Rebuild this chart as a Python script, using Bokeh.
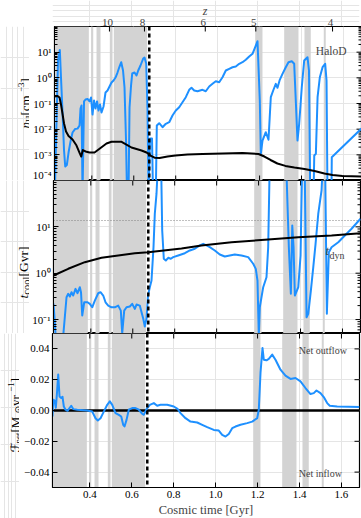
import math
from bokeh.plotting import figure
from bokeh.models import (Range1d, LinearAxis, LogAxis, FixedTicker, CustomJSTickFormatter,
                          BoxAnnotation, Span, Label)
from bokeh.layouts import column, row
from bokeh.embed import file_html
from bokeh.resources import INLINE

# ---------------- data ----------------
x_ticks = [0.4, 0.6, 0.8, 1.0, 1.2, 1.4, 1.6]
z_labels = ["10", "8", "6", "5", "4"]
z_times = [0.484, 0.651, 0.941, 1.182, 1.548]

band_start = [0.222, 0.397, 0.4224, 0.4858, 0.5049, 1.179, 1.3173, 1.4141, 1.5061]
band_end = [0.3857, 0.4067, 0.4415, 0.4986, 0.6641, 1.2138, 1.3855, 1.4441, 1.5156]
merger_time = 0.674
universe_age = 13.7

halo_t = [0.222, 0.2365, 0.246, 0.253, 0.260, 0.2675, 0.277, 0.289, 0.308, 0.327,
          0.341, 0.3495, 0.357, 0.370, 0.389, 0.413, 0.432, 0.451, 0.470, 0.494,
          0.518, 0.542, 0.565, 0.589, 0.613, 0.637, 0.661, 0.680, 0.699, 0.723,
          0.761, 0.799, 0.856, 0.928, 1.024, 1.119, 1.195, 1.223, 1.252, 1.285,
          1.323, 1.366, 1.414, 1.462, 1.509, 1.548, 1.595, 1.686]
halo_nh = [0.187, 0.196, 0.171, 0.0914, 0.0407, 0.0166, 0.0081, 0.0054, 0.00395, 0.0023,
           0.00123, 0.00086, 0.00154, 0.00135, 0.00123, 0.00123, 0.00161, 0.00211, 0.00276, 0.00322,
           0.00326, 0.0032, 0.00252, 0.00193, 0.00169, 0.00148, 0.00123, 0.00094, 0.00077, 0.00076,
           0.00086, 0.00094, 0.00103, 0.00108, 0.00113, 0.00117, 0.00108, 0.00086, 0.00063, 0.00046,
           0.00037, 0.00032, 0.00028, 0.000234, 0.000188, 0.000164, 0.00015, 0.000143]

gal_t = [0.2236, 0.2317, 0.2389, 0.2474, 0.2532, 0.2603, 0.2675, 0.2732, 0.2808, 0.289,
         0.2984, 0.308, 0.3199, 0.3318, 0.3414, 0.3461, 0.3509, 0.3557, 0.3628, 0.370,
         0.3795, 0.389, 0.3962, 0.4033, 0.4105, 0.4176, 0.4248, 0.432, 0.4391, 0.4462,
         0.4558, 0.4653, 0.4749, 0.4844, 0.4939, 0.5035, 0.513, 0.5225, 0.5321, 0.5402,
         0.5488, 0.5559, 0.5631, 0.5678, 0.575, 0.5798, 0.587, 0.5926, 0.6036, 0.6131,
         0.6212, 0.6322, 0.6451, 0.6513, 0.6594, 0.6656, 0.6703, 0.6775, 0.687, 0.6918,
         0.7051, 0.7099, 0.7213, 0.7372, 0.7528, 0.7691, 0.7847, 0.8005, 0.8167, 0.8324,
         0.8482, 0.8644, 0.8753, 0.8882, 0.9039, 0.9278, 0.9435, 0.9597, 0.9755, 0.9912,
         1.0074, 1.0232, 1.0389, 1.0551, 1.0708, 1.0866, 1.1028, 1.1185, 1.1342, 1.1505,
         1.1662, 1.1791, 1.1901, 1.2010, 1.2058, 1.2139, 1.2296, 1.2425, 1.2535, 1.2649,
         1.2773, 1.2854, 1.2963, 1.3092, 1.3249, 1.3378, 1.3535, 1.3650, 1.3726, 1.3807,
         1.3888, 1.4012, 1.4127, 1.4284, 1.4356, 1.4413, 1.4574, 1.4607, 1.4684, 1.4765,
         1.4874, 1.5003, 1.5128, 1.5193, 1.5238, 1.5428, 1.5443, 1.686]
gal_nh = [3e-5, 0.0217, 4.73, 12.1, 0.94, 0.0446, 0.00148, 0.00035, 0.0004, 0.00123,
          0.0033, 0.0074, 0.0101, 0.0105, 0.0139, 0.0638, 0.0836, 3e-5, 0.12, 0.143,
          0.15, 0.12, 0.171, 0.0372, 0.131, 0.0638, 0.12, 0.0533, 0.0914, 0.0446,
          0.0764, 0.268, 0.321, 0.459, 0.658, 0.787, 1.03, 1.61, 2.76, 4.06,
          1.93, 0.42, 0.0036, 3e-5, 3e-5, 0.0698, 0.502, 1.47, 1.61, 1.23,
          1.93, 3.02, 5.66, 6.19, 3.61, 0.0533, 3e-5, 0.00432, 0.00432, 3e-5,
          3e-5, 0.0139, 0.0171, 0.0119, 0.0162, 0.0187, 0.034, 0.0533, 0.0716, 0.112,
          0.176, 0.341, 0.408, 0.321, 0.301, 0.341, 0.301, 0.459, 0.585, 0.738,
          0.675, 1.06, 1.93, 2.25, 2.59, 2.76, 3.52, 4.06, 5.04, 6.77,
          8.63, 15.6, 26.7, 0.131, 0.0011, 0.0036, 0.0076, 0.00386, 0.176, 0.321,
          0.585, 0.408, 0.838, 1.43, 2.59, 4.06, 4.44, 3.52, 0.131, 0.0036,
          0.0162, 0.431, 4.73, 6.36, 1.93, 3e-5, 3e-5, 0.00094, 0.0011, 0.176,
          1.06, 2.59, 3.52, 0.787, 3e-5, 3e-5, 0.00081, 0.0106]

tdyn_t = [0.222, 0.2922, 0.3714, 0.451, 0.5306, 0.6098, 0.6737, 0.8324, 0.9278, 1.0708,
          1.2296, 1.3888, 1.548, 1.686]
tdyn = [0.892, 1.245, 1.73, 2.15, 2.41, 2.70, 2.84, 3.42, 3.97, 4.67,
        5.27, 5.99, 6.52, 7.31]

tcool_t = [0.222, 0.2284, 0.2341, 0.2651, 0.2841, 0.2922, 0.2998, 0.308, 0.3161, 0.327,
           0.3366, 0.3476, 0.3533, 0.359, 0.3685, 0.3843, 0.3952, 0.4067, 0.4191, 0.4353,
           0.4462, 0.4591, 0.4701, 0.483, 0.4987, 0.5144, 0.5306, 0.543, 0.5497, 0.5592,
           0.5702, 0.5859, 0.5974, 0.6098, 0.6179, 0.6336, 0.6384, 0.6498, 0.6575, 0.6656,
           0.6727, 0.6813, 0.6894, 0.6942, 0.6989, 0.7051, 0.7132, 0.7213, 0.7347, 0.7404,
           0.748, 0.7576, 0.769, 0.7814, 0.7929, 0.8167, 0.8482, 0.8721, 0.8958, 0.9197,
           0.9359, 0.9516, 0.9673, 0.9912, 1.015, 1.0389, 1.0627, 1.0865, 1.1185, 1.1504,
           1.1743, 1.1867, 1.1948, 1.201, 1.2058, 1.222, 1.2377, 1.2458, 1.2535, 1.331,
           1.3443, 1.3539, 1.3606, 1.3668, 1.373, 1.3893, 1.4002, 1.4083, 1.4193, 1.4288,
           1.4369, 1.4493, 1.4608, 1.4717, 1.4846, 1.5003, 1.5075, 1.517, 1.5256, 1.5351,
           1.548, 1.58, 1.6114, 1.6434, 1.686]
tcool = [0.222, 0.086, 0.03, 0.03, 0.303, 0.359, 0.314, 0.389, 0.33, 0.46,
         0.37, 0.499, 0.383, 0.122, 0.236, 0.236, 0.218, 0.184, 0.257, 0.37,
         0.389, 0.33, 0.236, 0.2, 0.184, 0.184, 0.2, 0.156, 0.0506, 0.156,
         0.184, 0.191, 0.218, 0.17, 0.211, 0.2, 0.164, 0.105, 0.0706, 0.105,
         0.33, 0.499, 0.695, 1.6, 3.64, 19.2, 51.9, 300, 300, 8.36,
         2.05, 1.88, 2.15, 2.05, 2.22, 2.41, 2.7, 3.09, 3.37, 3.97,
         4.31, 3.97, 3.64, 3.09, 2.53, 2.29, 2.41, 2.53, 2.41, 2.22,
         1.6, 1.24, 0.695, 0.045, 0.184, 0.499, 0.82, 3.64, 300, 300,
         3.64, 0.359, 10.7, 3.64, 0.33, 0.499, 2.41, 300, 300, 0.112,
         0.133, 0.423, 1.35, 4.31, 19.2, 61, 300, 300, 0.133, 2.84,
         3.64, 4.67, 6.52, 9.1, 15.0]

flux_t = [0.222, 0.2255, 0.2317, 0.2379, 0.2427, 0.2493, 0.2555, 0.2636, 0.2698, 0.276,
          0.2841, 0.2937, 0.3032, 0.3113, 0.3209, 0.3399, 0.3876, 0.4114, 0.4272, 0.4381,
          0.451, 0.4667, 0.483, 0.4954, 0.5068, 0.5225, 0.5383, 0.5497, 0.5592, 0.5654,
          0.575, 0.5859, 0.6021, 0.6179, 0.6336, 0.6498, 0.6575, 0.6703, 0.6861, 0.7052,
          0.7213, 0.7372, 0.769, 0.8005, 0.8182, 0.8324, 0.8563, 0.8801, 0.9121, 0.9359,
          0.9597, 0.9912, 1.015, 1.0312, 1.047, 1.0627, 1.0789, 1.0946, 1.1185, 1.1504,
          1.1743, 1.1981, 1.2058, 1.2139, 1.2234, 1.2296, 1.2425, 1.2535, 1.2697, 1.2854,
          1.3092, 1.333, 1.3569, 1.3807, 1.4045, 1.4284, 1.4522, 1.4679, 1.4808, 1.4999,
          1.5156, 1.5318, 1.5442, 1.5795, 1.686]
flux = [-0.0039, 0.007, 0.0065, 0.0018, 0.0102, 0.0233, 0.0091, 0.0081, 0.0089, 0.0026,
        0.0005, -0.0002, 0.0016, 0.0031, 0.0009, 0.0005, 0.0, -0.0007, -0.005, -0.0065,
        -0.005, -0.0007, 0.0037, 0.0059, 0.0037, -0.0017, -0.0028, -0.0039, -0.0093, -0.0104,
        -0.0061, 0.0005, 0.0016, 0.0016, 0.0005, -0.0021, -0.0028, 0.0009, 0.0037, 0.0048,
        0.0031, 0.0037, 0.0037, 0.0026, 0.0011, -0.0017, -0.005, -0.0072, -0.0078, -0.0093,
        -0.0108, -0.0126, -0.013, -0.0158, -0.0169, -0.0152, -0.0115, -0.0104, -0.0093, -0.0082,
        -0.0072, -0.005, 0.0005, 0.0244, 0.0406, 0.033, 0.0326, 0.0335, 0.0363, 0.033,
        0.0265, 0.0226, 0.0205, 0.0211, 0.0189, 0.0146, 0.0107, 0.0113, 0.013, 0.0113,
        0.0087, 0.0048, 0.0031, 0.0026, 0.0022]

# ---------------- style ----------------
FONT = "Liberation Serif"
BLUE = "#1e90ff"
GREY = "#d3d3d3"
FW = 307
FRAME_LEFT, RIGHT_B = 52, 2
TOP_H, BOT_B = 26, 31
H1, H2, H3 = 154, 153, 154
XR = (0.222, 1.686)
MAJ_LEN, MIN_LEN = 5, 3

log_fmt = CustomJSTickFormatter(code="""
const sup = {'-':'\u207b','0':'\u2070','1':'\u00b9','2':'\u00b2','3':'\u00b3','4':'\u2074',
             '5':'\u2075','6':'\u2076','7':'\u2077','8':'\u2078','9':'\u2079'};
const e = Math.round(Math.log10(tick));
return '10' + String(e).split('').map(c => sup[c]).join('');
""")
lin_fmt = CustomJSTickFormatter(code="""
const a = Math.abs(tick) < 1e-9 ? 0 : tick;
return (a < 0 ? '\u2212' : '') + Math.abs(a).toFixed(2);
""")
x_fmt = CustomJSTickFormatter(code="return tick.toFixed(1);")


def plain_fig(w, h):
    p = figure(frame_width=w, frame_height=h, x_range=Range1d(0, 1), y_range=Range1d(0, 1),
               x_axis_location=None, y_axis_location=None,
               min_border_left=0, min_border_right=0, min_border_top=0, min_border_bottom=0,
               output_backend="svg", toolbar_location=None)
    p.outline_line_color = None
    p.background_fill_color = "white"
    p.border_fill_color = "white"
    return p


def make_fig(frame_h, yr, log, left_b, bottom_b):
    p = figure(frame_width=FW, frame_height=frame_h, x_range=Range1d(*XR), y_range=yr,
               y_axis_type="log" if log else "linear",
               x_axis_location=None, y_axis_location=None,
               min_border_left=left_b, min_border_right=RIGHT_B,
               min_border_top=0, min_border_bottom=bottom_b,
               output_backend="svg", toolbar_location=None)
    p.outline_line_color = "black"
    p.outline_line_width = 1.2
    p.background_fill_color = "white"
    p.border_fill_color = "white"
    for a, b in zip(band_start, band_end):
        p.add_layout(BoxAnnotation(left=a, right=b, fill_color=GREY, fill_alpha=1.0,
                                   line_color=None, level="underlay"))
    p.add_layout(Span(location=merger_time, dimension="height", line_color="black",
                      line_width=2.5, line_dash="4 3"))
    return p


def style_axis(ax, size="11px"):
    ax.major_tick_in = MAJ_LEN
    ax.major_tick_out = 0
    ax.minor_tick_in = MIN_LEN
    ax.minor_tick_out = 0
    ax.axis_line_color = "black"
    ax.major_tick_line_color = "black"
    ax.minor_tick_line_color = "black"
    ax.major_label_text_font = FONT
    ax.major_label_text_font_size = size
    ax.major_label_text_color = "black"
    ax.major_label_standoff = 3


def inward_y(yr, log, frame_h, edge, sign, length):
    # data value that lies `length` px inside the frame from the given edge
    if log:
        ppd = frame_h / math.log10(yr.end / yr.start)
        return edge * 10 ** (sign * length / ppd)
    return edge + sign * length * (yr.end - yr.start) / frame_h


def x_tick_marks(p, ticks, yr, log, frame_h, top=True, bottom=True):
    n = len(ticks)
    if top:
        y_in = inward_y(yr, log, frame_h, yr.end, -1, MAJ_LEN)
        p.segment(x0=ticks, x1=ticks, y0=[yr.end] * n, y1=[y_in] * n,
                  line_color="black", line_width=1)
    if bottom:
        y_in = inward_y(yr, log, frame_h, yr.start, 1, MAJ_LEN)
        p.segment(x0=ticks, x1=ticks, y0=[yr.start] * n, y1=[y_in] * n,
                  line_color="black", line_width=1)


def right_tick_marks(p, majors, minors):
    span = XR[1] - XR[0]
    for vals, length in ((majors, MAJ_LEN), (minors, MIN_LEN)):
        if not vals:
            continue
        x_in = XR[1] - length * span / FW
        p.segment(x0=[XR[1]] * len(vals), x1=[x_in] * len(vals), y0=vals, y1=vals,
                  line_color="black", line_width=1)


def left_axis(p, log, majors, minors):
    cls = LogAxis if log else LinearAxis
    ax = cls(ticker=FixedTicker(ticks=majors, minor_ticks=minors),
             formatter=log_fmt if log else lin_fmt)
    style_axis(ax)
    p.add_layout(ax, "left")
    right_tick_marks(p, majors, minors)


def rich_vlabel(p, pieces, x0, y0):
    y = y0
    for text, size, width, shift, style, font in pieces:
        p.add_layout(Label(x=x0 + shift, y=y, x_units="screen", y_units="screen", text=text,
                           angle=math.pi / 2, text_font=font, text_font_size=f"{size}px",
                           text_font_style=style, text_align="left",
                           text_baseline="alphabetic", text_color="black"))
        y += width


def minor_log(e0, e1):
    return [k * 10.0 ** e for e in range(e0, e1) for k in range(2, 10)]


# ---------------- redshift strip on top ----------------
strip = figure(frame_width=FW, frame_height=TOP_H, x_range=Range1d(*XR), y_range=Range1d(0, 1),
               x_axis_location=None, y_axis_location=None,
               min_border_left=FRAME_LEFT, min_border_right=RIGHT_B, min_border_top=0,
               min_border_bottom=0, output_backend="svg", toolbar_location=None)
strip.outline_line_color = None
for zt, zl in zip(z_times, z_labels):
    strip.add_layout(Label(x=zt, y=4.3, y_units="screen", text=zl, text_font=FONT,
                           text_font_size="11px", text_align="center",
                           text_baseline="alphabetic"))
strip.add_layout(Label(x=152.7, y=16, x_units="screen", y_units="screen", text="z",
                       text_font=FONT, text_font_size="12px", text_font_style="italic",
                       text_align="center", text_baseline="alphabetic"))

# ---------------- panel 1 : density ----------------
L1 = 29
yr1 = Range1d(1e-4, 1e2)
p1 = make_fig(H1, yr1, True, FRAME_LEFT - L1, 0)
left_axis(p1, True, [1e-4, 1e-3, 1e-2, 1e-1, 1e0, 1e1], minor_log(-4, 2))
x_tick_marks(p1, z_times, yr1, True, H1, top=True, bottom=False)
x_tick_marks(p1, x_ticks, yr1, True, H1, top=False, bottom=True)
p1.line(gal_t, gal_nh, line_color=BLUE, line_width=2, line_join="round")
p1.line(halo_t, halo_nh, line_color="black", line_width=2, line_join="round")
p1.add_layout(Label(x=292, y=130, x_units="screen", y_units="screen", text="HaloD",
                    text_font=FONT, text_font_size="11.5px", text_align="right",
                    text_baseline="alphabetic"))
lab1 = plain_fig(L1, H1)
rich_vlabel(lab1, [("n", 13, 6.5, 0, "italic", FONT), ("H", 9, 6.5, 3, "normal", FONT),
                   (" [cm", 13, 23.5, 0, "normal", FONT), ("\u22123", 9, 9.6, -5, "normal", FONT),
                   ("]", 13, 4.3, 0, "normal", FONT)], 25, 52)

# ---------------- panel 2 : cooling time ----------------
L2 = 29
yr2 = Range1d(0.05, 100)
p2 = make_fig(H2, yr2, True, FRAME_LEFT - L2, 0)
left_axis(p2, True, [1e-1, 1e0, 1e1], [0.05, 0.06, 0.07, 0.08, 0.09] + minor_log(-1, 2))
x_tick_marks(p2, x_ticks, yr2, True, H2)
p2.add_layout(Span(location=universe_age, dimension="width", line_color="#808080",
                   line_width=1, line_dash="1 2", level="underlay"))
p2.line(tcool_t, tcool, line_color=BLUE, line_width=2, line_join="round")
p2.line(tdyn_t, tdyn, line_color="black", line_width=2, line_join="round")
p2.add_layout(Label(x=272, y=83, x_units="screen", y_units="screen", text="t",
                    text_font=FONT, text_font_size="13px", text_font_style="italic",
                    text_baseline="alphabetic"))
p2.add_layout(Label(x=276, y=78, x_units="screen", y_units="screen", text="dyn",
                    text_font=FONT, text_font_size="10px", text_baseline="alphabetic"))
lab2 = plain_fig(L2, H2)
rich_vlabel(lab2, [("t", 13.5, 3.8, 0, "italic", FONT), ("cool", 10.5, 18.1, 3, "normal", FONT),
                   (" [Gyr]", 13.5, 33.4, 0, "normal", FONT)], 23, 35)

# ---------------- panel 3 : net flux ----------------
L3 = 19
yr3 = Range1d(-0.05, 0.05)
p3 = make_fig(H3, yr3, False, FRAME_LEFT - L3, BOT_B)
xb = LinearAxis(ticker=FixedTicker(ticks=x_ticks, minor_ticks=[]), formatter=x_fmt)
style_axis(xb)
xb.axis_label = "Cosmic time [Gyr]"
xb.axis_label_text_font = FONT
xb.axis_label_text_font_size = "12.5px"
xb.axis_label_text_font_style = "normal"
xb.axis_label_standoff = 2
p3.add_layout(xb, "below")
x_tick_marks(p3, x_ticks, yr3, False, H3, top=True, bottom=False)
left_axis(p3, False, [-0.04, -0.02, 0.0, 0.02, 0.04], [])
p3.add_layout(Span(location=0, dimension="width", line_color="black", line_width=2.5,
                   level="underlay"))
p3.line(flux_t, flux, line_color=BLUE, line_width=2, line_join="round")
p3.add_layout(Label(x=246.3, y=137, x_units="screen", y_units="screen", text="Net outflow",
                    text_font=FONT, text_font_size="10px", text_baseline="alphabetic"))
p3.add_layout(Label(x=246.3, y=14.5, x_units="screen", y_units="screen", text="Net inflow",
                    text_font=FONT, text_font_size="10px", text_baseline="alphabetic"))
lab3 = plain_fig(L3, H3 + BOT_B)
rich_vlabel(lab3, [("\u2131", 13, 9.0, 0, "normal", "DejaVu Sans"), ("net", 9, 11.0, 2, "normal", FONT),
                   (" [M", 13, 19.1, 0, "normal", FONT), ("\u2299", 9, 7.5, 2, "normal", "DejaVu Sans"),
                   (" yr", 13, 14.1, 0, "normal", FONT), ("\u22121", 9, 9.6, -5, "normal", FONT),
                   ("]", 13, 4.3, 0, "normal", FONT)], 15, 35 + BOT_B)

layout = column(strip, row(lab1, p1, spacing=0), row(lab2, p2, spacing=0),
                row(lab3, p3, spacing=0), spacing=0)
open("out.html", "w").write(file_html(layout, INLINE))
